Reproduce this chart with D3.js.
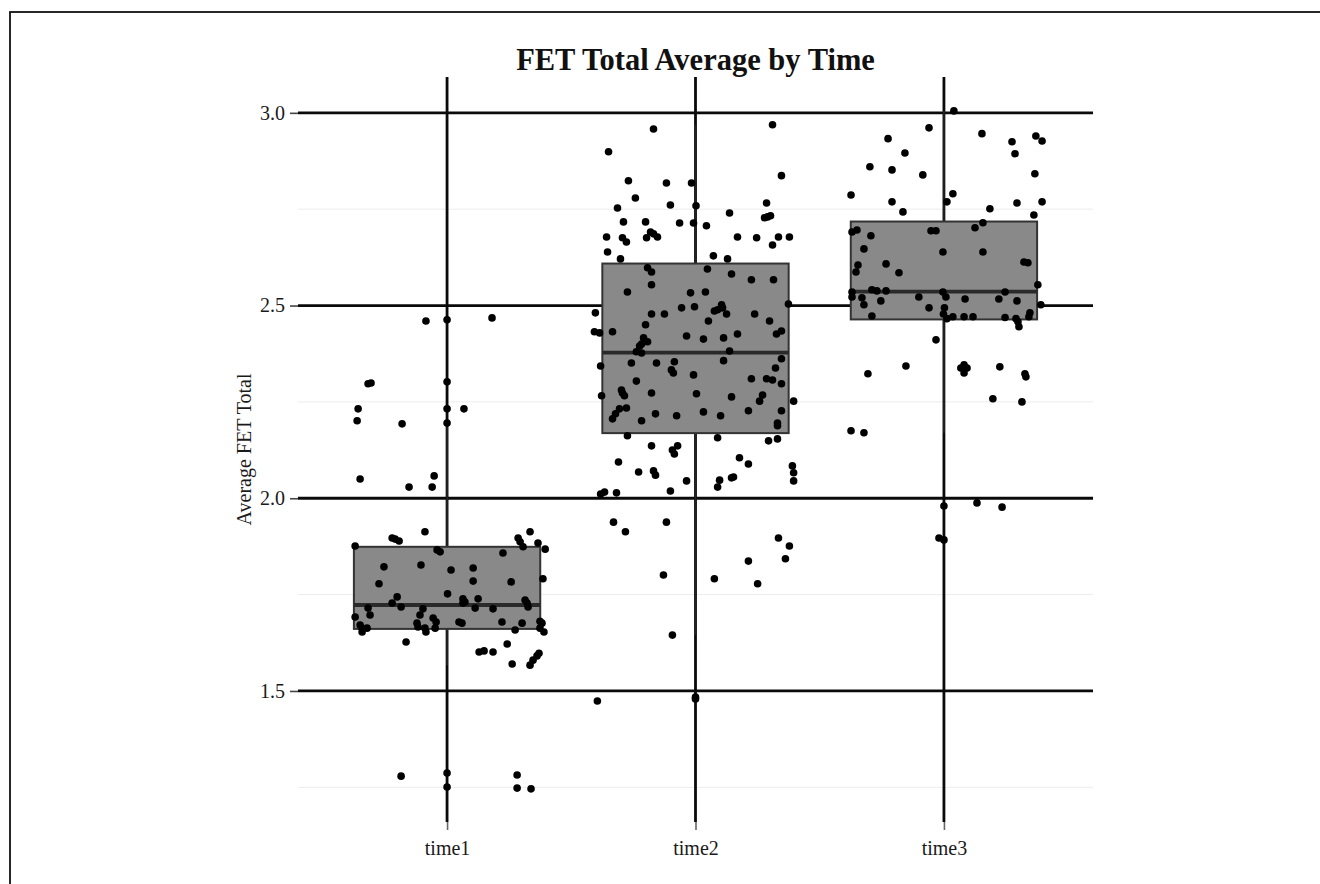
<!DOCTYPE html>
<html>
<head>
<meta charset="utf-8">
<script src="https://cdn.jsdelivr.net/npm/d3@7"></script>
<style>
  html, body { margin: 0; padding: 0; background: #fff; }
  svg { display: block; }
</style>
</head>
<body>
<svg id="chart" width="1320" height="884"></svg>
<script>
const categories = ["time1", "time2", "time3"];
const majorTicks = [1.5, 2.0, 2.5, 3.0];
const minorTicks = [1.25, 1.75, 2.25, 2.75];
const tickLabels = ["1.5", "2.0", "2.5", "3.0"];

const boxQ1 = [1.661, 2.169, 2.464];
const boxMedian = [1.723, 2.378, 2.536];
const boxQ3 = [1.874, 2.609, 2.718];
const whiskerLow = [1.567, 1.645, 2.170];
const whiskerHigh = [2.193, 2.969, 3.005];

const time1Outliers = [2.463, 2.302, 2.232, 2.195, 1.287, 1.251];
const time2Outliers = [1.484, 1.479];
const time3Outliers = [1.980, 1.892];

// [jitter offset (in category steps), value]
const time1Points = [
[-0.085,2.460],[0.181,2.468],[-0.318,2.297],[-0.306,2.299],[-0.358,2.232],[0.068,2.232],[-0.362,2.201],[-0.181,2.193],
[-0.350,2.050],[-0.153,2.029],[-0.060,2.029],[-0.052,2.058],[-0.089,1.913],[-0.221,1.897],[-0.209,1.894],[-0.193,1.889],
[-0.370,1.876],[-0.040,1.866],[-0.028,1.861],[0.334,1.913],[0.286,1.897],[0.294,1.887],[0.306,1.874],[0.366,1.884],
[0.395,1.868],[0.225,1.858],[-0.254,1.822],[-0.105,1.827],[0.016,1.814],[0.105,1.819],[-0.274,1.778],[0.105,1.785],
[0.258,1.783],[0.386,1.791],[0.002,1.752],[-0.201,1.744],[-0.221,1.728],[-0.185,1.718],[-0.318,1.715],[-0.310,1.697],
[-0.097,1.713],[-0.109,1.697],[0.064,1.739],[0.072,1.731],[0.064,1.728],[0.125,1.739],[0.113,1.715],[0.185,1.713],
[0.314,1.736],[0.322,1.728],[0.326,1.718],[-0.370,1.692],[-0.350,1.671],[-0.342,1.663],[-0.342,1.653],[-0.322,1.663],
[-0.121,1.676],[-0.117,1.666],[-0.089,1.663],[-0.085,1.653],[-0.056,1.689],[-0.044,1.679],[-0.048,1.663],[0.048,1.679],
[0.060,1.676],[0.221,1.679],[0.302,1.676],[0.374,1.681],[0.382,1.676],[0.374,1.663],[0.274,1.658],[0.390,1.653],
[-0.165,1.627],[0.242,1.622],[0.129,1.601],[0.149,1.604],[0.185,1.601],[0.370,1.598],[0.362,1.591],[0.346,1.580],
[0.334,1.567],[0.262,1.570],[-0.185,1.279],[0.282,1.282],[0.282,1.248],[0.338,1.246]
];

const time2Points = [
[-0.169,2.958],[0.310,2.969],[-0.350,2.899],[0.346,2.837],[-0.270,2.824],[-0.117,2.818],[-0.016,2.818],[-0.242,2.779],
[-0.101,2.761],[0.002,2.759],[-0.314,2.753],[0.286,2.766],[0.137,2.740],[0.278,2.728],[0.290,2.730],[0.302,2.733],
[-0.290,2.717],[-0.201,2.717],[-0.064,2.714],[-0.008,2.714],[0.044,2.707],[-0.181,2.691],[-0.169,2.686],[-0.153,2.678],
[-0.197,2.676],[-0.358,2.678],[-0.294,2.676],[-0.278,2.665],[0.169,2.678],[0.246,2.676],[0.334,2.678],[0.378,2.678],
[0.310,2.657],[-0.354,2.639],[-0.302,2.621],[0.072,2.629],[0.129,2.621],[-0.193,2.598],[-0.177,2.587],[0.048,2.595],
[0.145,2.582],[0.225,2.567],[0.314,2.567],[-0.177,2.554],[-0.274,2.535],[-0.020,2.533],[0.040,2.535],[-0.403,2.481],
[-0.177,2.478],[-0.125,2.478],[-0.056,2.494],[-0.004,2.497],[0.105,2.502],[0.109,2.494],[0.076,2.486],[0.089,2.489],
[0.125,2.478],[0.238,2.478],[0.374,2.504],[0.052,2.460],[0.298,2.460],[-0.201,2.450],[-0.407,2.432],[-0.386,2.429],
[-0.334,2.432],[-0.036,2.421],[0.032,2.413],[0.113,2.416],[0.169,2.426],[0.326,2.426],[0.346,2.434],[-0.209,2.416],
[-0.193,2.406],[-0.217,2.400],[-0.225,2.395],[-0.238,2.380],[-0.217,2.377],[0.137,2.382],[-0.382,2.343],[-0.258,2.351],
[-0.157,2.351],[-0.085,2.354],[-0.097,2.333],[-0.089,2.325],[-0.008,2.320],[0.113,2.357],[0.346,2.362],[0.322,2.338],
[0.225,2.310],[0.286,2.310],[0.310,2.307],[0.346,2.297],[-0.238,2.304],[-0.298,2.281],[-0.294,2.273],[-0.286,2.266],
[-0.177,2.273],[0.004,2.271],[0.145,2.263],[0.270,2.268],[0.258,2.252],[-0.378,2.266],[0.395,2.252],[-0.278,2.234],
[-0.306,2.232],[-0.322,2.219],[-0.334,2.206],[-0.217,2.201],[-0.161,2.219],[-0.076,2.214],[0.032,2.224],[0.101,2.214],
[0.213,2.227],[0.346,2.227],[0.330,2.195],[0.330,2.188],[-0.274,2.162],[0.089,2.157],[0.330,2.154],[0.294,2.149],
[-0.177,2.136],[-0.072,2.136],[-0.093,2.125],[-0.085,2.115],[-0.310,2.094],[0.177,2.105],[0.213,2.089],[-0.229,2.068],
[-0.169,2.071],[-0.161,2.060],[0.390,2.084],[0.395,2.066],[0.395,2.045],[-0.036,2.045],[0.097,2.047],[0.089,2.029],
[0.145,2.053],[0.153,2.055],[-0.101,2.019],[-0.382,2.011],[-0.366,2.016],[-0.318,2.014],[-0.330,1.938],[-0.282,1.913],
[-0.117,1.938],[0.334,1.897],[0.378,1.876],[0.362,1.843],[0.213,1.837],[0.076,1.791],[0.250,1.778],[-0.129,1.801],
[-0.093,1.645],[-0.395,1.474]
];

const time3Points = [
[0.040,3.005],[-0.060,2.961],[0.153,2.946],[-0.225,2.933],[0.274,2.925],[0.370,2.940],[0.395,2.927],[0.286,2.894],
[-0.157,2.896],[-0.298,2.860],[-0.209,2.852],[-0.085,2.839],[0.366,2.842],[-0.374,2.787],[0.036,2.790],[0.012,2.769],
[-0.209,2.769],[0.294,2.766],[0.395,2.769],[0.185,2.751],[-0.165,2.743],[0.362,2.735],[0.157,2.715],[0.125,2.702],
[-0.370,2.691],[-0.350,2.696],[-0.294,2.681],[-0.052,2.694],[-0.032,2.694],[-0.322,2.647],[-0.004,2.639],[0.157,2.639],
[-0.233,2.608],[-0.346,2.605],[-0.354,2.587],[-0.181,2.585],[0.322,2.613],[0.338,2.611],[0.378,2.554],[-0.370,2.535],
[-0.370,2.522],[-0.290,2.541],[-0.270,2.538],[-0.233,2.538],[-0.004,2.535],[0.008,2.522],[0.246,2.535],[-0.101,2.522],
[-0.330,2.520],[-0.322,2.502],[-0.254,2.512],[0.085,2.517],[0.221,2.517],[0.294,2.512],[0.390,2.502],[-0.060,2.494],
[0.002,2.494],[-0.002,2.478],[0.012,2.466],[0.036,2.471],[-0.290,2.473],[0.081,2.471],[0.117,2.471],[0.246,2.469],
[0.290,2.466],[0.298,2.458],[0.302,2.445],[0.342,2.471],[0.346,2.481],[-0.032,2.411],[-0.306,2.323],[-0.153,2.343],
[0.068,2.338],[0.081,2.346],[0.093,2.338],[0.081,2.325],[0.225,2.341],[0.326,2.323],[0.330,2.315],[0.197,2.258],
[0.314,2.250],[-0.374,2.175],[-0.322,2.170],[0.133,1.988],[0.234,1.977],[-0.020,1.897]
];

const allPoints = [time1Points, time2Points, time3Points];
const allOutliers = [time1Outliers, time2Outliers, time3Outliers];

const svg = d3.select("#chart");
const W = 1320, H = 884;
const panel = { left: 298, right: 1093, top: 77, bottom: 822 };

const x = d3.scalePoint().domain(categories).range([panel.left, panel.right]).padding(0.6);
const step = x.step();
const y = d3.scaleLinear().domain([1.160, 3.093]).range([panel.bottom, panel.top]);

const serif = "'Liberation Serif', 'Times New Roman', serif";

// outer frame (left + top visible)
svg.append("rect").attr("x", 10).attr("y", 12).attr("width", W + 20).attr("height", H + 20)
  .attr("fill", "none").attr("stroke", "#111").attr("stroke-width", 1.8);

// minor gridlines
svg.append("g").selectAll("line").data(minorTicks).join("line")
  .attr("x1", panel.left).attr("x2", panel.right)
  .attr("y1", d => y(d)).attr("y2", d => y(d))
  .attr("stroke", "#ececec").attr("stroke-width", 1);

// major horizontal gridlines
svg.append("g").selectAll("line").data(majorTicks).join("line")
  .attr("x1", panel.left).attr("x2", panel.right)
  .attr("y1", d => y(d)).attr("y2", d => y(d))
  .attr("stroke", "#0a0a0a").attr("stroke-width", 2.8);

// major vertical gridlines
svg.append("g").selectAll("line").data(categories).join("line")
  .attr("x1", d => x(d)).attr("x2", d => x(d))
  .attr("y1", panel.top).attr("y2", panel.bottom)
  .attr("stroke", "#0a0a0a").attr("stroke-width", 2.8);

// y axis
const yAxis = d3.axisLeft(y).tickValues(majorTicks).tickSize(8).tickPadding(5)
  .tickFormat((d, i) => tickLabels[i]);
const gy = svg.append("g").attr("transform", `translate(${panel.left},0)`).call(yAxis);
gy.select(".domain").remove();
gy.selectAll(".tick line").attr("stroke", "#444").attr("stroke-width", 1.6);
gy.selectAll(".tick text").attr("font-family", serif).attr("font-size", 20).attr("fill", "#1a1a1a");

// x axis
const xAxis = d3.axisBottom(x).tickSize(8).tickPadding(11);
const gx = svg.append("g").attr("transform", `translate(0,${panel.bottom})`).call(xAxis);
gx.select(".domain").remove();
gx.selectAll(".tick line").attr("stroke", "#666").attr("stroke-width", 1.6);
gx.selectAll(".tick text").attr("font-family", serif).attr("font-size", 20).attr("fill", "#1a1a1a");

// boxplots
const bw = step * 0.75;
const boxes = svg.append("g");
categories.forEach((c, i) => {
  const cx = x(c);
  boxes.append("line").attr("x1", cx).attr("x2", cx)
    .attr("y1", y(boxQ3[i])).attr("y2", y(whiskerHigh[i]))
    .attr("stroke", "#222").attr("stroke-width", 1.8);
  boxes.append("line").attr("x1", cx).attr("x2", cx)
    .attr("y1", y(boxQ1[i])).attr("y2", y(whiskerLow[i]))
    .attr("stroke", "#222").attr("stroke-width", 1.8);
  boxes.append("rect")
    .attr("x", cx - bw / 2).attr("width", bw)
    .attr("y", y(boxQ3[i])).attr("height", y(boxQ1[i]) - y(boxQ3[i]))
    .attr("fill", "#898989").attr("stroke", "#333").attr("stroke-width", 2);
  boxes.append("line")
    .attr("x1", cx - bw / 2).attr("x2", cx + bw / 2)
    .attr("y1", y(boxMedian[i])).attr("y2", y(boxMedian[i]))
    .attr("stroke", "#2a2a2a").attr("stroke-width", 3.8);
  boxes.append("g").selectAll("circle").data(allOutliers[i]).join("circle")
    .attr("cx", cx).attr("cy", d => y(d)).attr("r", 3.8).attr("fill", "#000");
});

// jittered points
const pts = svg.append("g");
categories.forEach((c, i) => {
  pts.append("g").selectAll("circle").data(allPoints[i]).join("circle")
    .attr("cx", d => x(c) + d[0] * step)
    .attr("cy", d => y(d[1]))
    .attr("r", 3.8).attr("fill", "#000");
});

// title
svg.append("text").attr("x", (panel.left + panel.right) / 2).attr("y", 70)
  .attr("text-anchor", "middle").attr("font-family", serif).attr("font-weight", "bold")
  .attr("font-size", 30.5).attr("fill", "#111").text("FET Total Average by Time");

// y axis title
svg.append("text")
  .attr("transform", `translate(251,${(panel.top + panel.bottom) / 2}) rotate(-90)`)
  .attr("text-anchor", "middle").attr("font-family", serif)
  .attr("font-size", 20).attr("fill", "#1a1a1a").text("Average FET Total");
</script>
</body>
</html>
